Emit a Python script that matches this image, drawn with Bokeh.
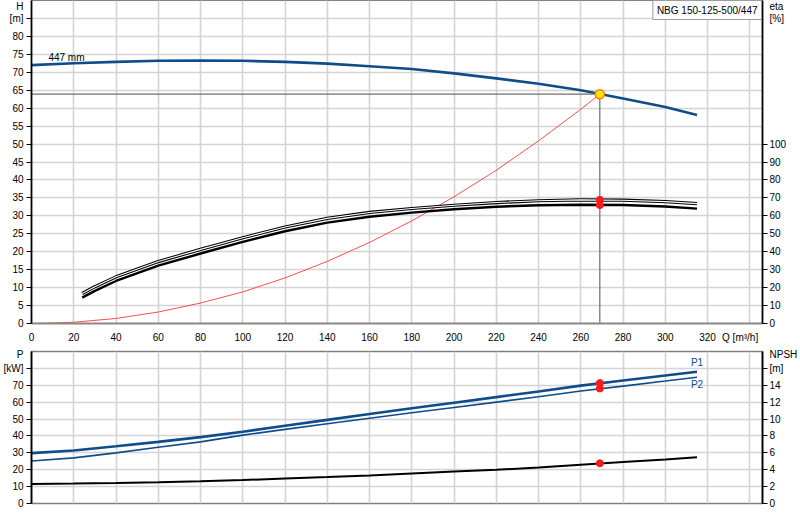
from bokeh.plotting import figure
from bokeh.models import Range1d, LinearAxis, FixedTicker, Label
from bokeh.layouts import column
from bokeh.embed import file_html
from bokeh.resources import INLINE

# ---------------- data ----------------
q_head = [0, 20, 40, 60, 80, 100, 120, 140, 160, 180, 200, 220, 240, 260, 280, 300, 315]
head = [72.0, 72.5, 72.9, 73.2, 73.3, 73.2, 72.9, 72.4, 71.7, 70.9, 69.7, 68.3, 66.8, 65.0, 62.7, 60.3, 58.1]

q_sys = [0, 20, 40, 60, 80, 100, 120, 140, 160, 180, 200, 220, 240, 260, 269]
h_sys = [0, 0.35, 1.4, 3.2, 5.7, 8.8, 12.7, 17.3, 22.6, 28.6, 35.3, 42.7, 50.9, 59.7, 63.9]

q_eta = [24, 30, 40, 60, 80, 100, 120, 140, 160, 180, 200, 220, 240, 260, 280, 300, 315]
eta_1 = [16.7, 20.5, 26.0, 34.5, 41.3, 47.8, 53.8, 58.6, 61.9, 64.1, 65.9, 67.4, 68.4, 68.9, 68.7, 67.9, 66.8]
eta_2 = [14.4, 18.2, 23.7, 32.2, 39.0, 45.5, 51.4, 56.2, 59.5, 61.8, 63.7, 65.1, 65.9, 66.2, 66.0, 65.2, 64.0]

q_pow = [0, 20, 40, 60, 80, 100, 120, 140, 160, 180, 200, 220, 240, 260, 280, 300, 315]
p1 = [29.8, 31.4, 33.9, 36.5, 39.3, 42.5, 46.0, 49.5, 53.0, 56.4, 59.7, 63.0, 66.3, 69.8, 72.8, 75.8, 78.0]
p2 = [25.2, 27.0, 30.0, 33.3, 36.5, 40.5, 43.9, 47.2, 50.5, 53.7, 56.8, 60.0, 63.2, 66.6, 69.5, 72.5, 74.8]
npsh = [2.3, 2.36, 2.43, 2.52, 2.63, 2.78, 2.95, 3.13, 3.33, 3.55, 3.78, 4.0, 4.25, 4.6, 4.92, 5.22, 5.48]

op_q = [269]
op_h = [63.9]
op_eta = [68.9, 66.0]
op_p = [71.3, 68.1]
op_npsh = [4.76]

# tick marks / grid positions
q_grid = [0, 20, 40, 60, 80, 100, 120, 140, 160, 180, 200, 220, 240, 260, 280, 300, 320, 340]
q_ticks = [0, 20, 40, 60, 80, 100, 120, 140, 160, 180, 200, 220, 240, 260, 280, 300, 320]
h_marks = [0, 5, 10, 15, 20, 25, 30, 35, 40, 45, 50, 55, 60, 65, 70, 75, 80, 85]
h_grid = h_marks + [90]
eta_marks = [0, 10, 20, 30, 40, 50, 60, 70, 80, 90, 100]
p_marks = [0, 10, 20, 30, 40, 50, 60, 70, 80]
p_grid = p_marks + [90]
npsh_marks = [0, 2, 4, 6, 8, 10, 12, 14, 16]

# axis titles placed as tick labels (position -> text)
q_title = {335.4: "Q [m³/h]"}
h_title = {85: "[m]", 88.5: "H"}
eta_title = {170: "[%]", 177: "eta"}
p_title = {80: "[kW]", 88.5: "P"}
npsh_title = {16: "[m]", 17.7: "NPSH"}

title_text = "NBG 150-125-500/447"
imp_text = "447 mm"

# ---------------- style ----------------
FONT = "Liberation Sans"
FS = "10px"
BLUE = "#0f4c8a"
GRID = "#d4d4d4"
Q_MIN, Q_MAX = 0, 346


def style_axis(ax, marks, titles, color="black", width=1.8, standoff=2):
    plain = [m for m in marks if m not in titles]
    ax.ticker = FixedTicker(ticks=plain + list(titles.keys()), minor_ticks=marks)
    ax.major_label_overrides = dict(titles)
    ax.axis_line_color = color
    ax.axis_line_width = width
    ax.major_tick_line_color = None
    ax.major_tick_out = 5
    ax.major_tick_in = 0
    ax.minor_tick_line_color = "black"
    ax.minor_tick_out = 5
    ax.minor_tick_in = 0
    ax.major_label_standoff = standoff
    ax.major_label_text_font = FONT
    ax.major_label_text_font_size = FS
    ax.major_label_text_color = "black"


def lab(plot, text, x, y, xo=0, yo=0, align="left", baseline="middle", color="black", **kw):
    plot.add_layout(Label(x=x, y=y, x_offset=xo, y_offset=yo, text=text, text_align=align,
                          text_baseline=baseline, text_font=FONT, text_font_size=FS,
                          text_color=color, **kw))


# ---------------- top figure ----------------
top = figure(width=800, height=345, x_range=Range1d(Q_MIN, Q_MAX), y_range=Range1d(0, 90),
             output_backend="svg", toolbar_location=None,
             min_border_left=30, min_border_right=38, min_border_top=0, min_border_bottom=21)
top.extra_y_ranges = {"eta": Range1d(0, 180)}
top.outline_line_color = "#808080"

top.xgrid.ticker = FixedTicker(ticks=q_grid)
top.ygrid.ticker = FixedTicker(ticks=h_grid)
for g in (top.xgrid, top.ygrid):
    g.grid_line_color = GRID
    g.grid_line_width = 1.6

xa = top.xaxis[0]
style_axis(xa, q_ticks, q_title, color="#888888", width=2, standoff=8)
xa.minor_tick_line_color = None
xa.major_tick_out = 0
xa.minor_tick_out = 0

ya = top.yaxis[0]
style_axis(ya, h_marks, h_title, standoff=3)

eta_axis = LinearAxis(y_range_name="eta")
style_axis(eta_axis, eta_marks, eta_title)
top.add_layout(eta_axis, "right")

# system curve
top.line(q_sys, h_sys, line_color="#ff3030", line_width=1, line_alpha=0.85)
# pump curve
top.line(q_head, head, line_color=BLUE, line_width=2.6)
# operating point guides
top.segment(x0=[Q_MIN], y0=op_h, x1=op_q, y1=op_h, line_color="#6e6e6e", line_width=1.2)
top.segment(x0=op_q, y0=[0], x1=op_q, y1=op_h, line_color="#6e6e6e", line_width=1.2)
# efficiency curves
top.line(q_eta, eta_1, y_range_name="eta", line_color="black", line_width=3.2)
top.line(q_eta, eta_1, y_range_name="eta", line_color="white", line_width=1.1)
top.line(q_eta, eta_2, y_range_name="eta", line_color="black", line_width=2.4)
top.scatter([op_q[0]] * len(op_eta), op_eta, y_range_name="eta", size=7,
            fill_color="#ff1a1a", line_color="#ff1a1a")
top.scatter(op_q, op_h, size=9, fill_color="#ffe800", line_color="#ff7a00", line_width=1.5)

lab(top, imp_text, 8, 74.2)
lab(top, title_text, Q_MAX, 90, xo=-1, yo=0, align="right", baseline="top",
    border_line_color="#9a9a9a", border_line_width=1, background_fill_color="white", padding=4)

# ---------------- bottom figure ----------------
bot = figure(width=800, height=170, x_range=top.x_range, y_range=Range1d(0, 90),
             output_backend="svg", toolbar_location=None, x_axis_location=None,
             min_border_left=30, min_border_right=38, min_border_top=6, min_border_bottom=12)
bot.extra_y_ranges = {"npsh": Range1d(0, 18)}
bot.outline_line_color = "#808080"
bot.outline_line_width = 1.5
bot.xgrid.ticker = FixedTicker(ticks=q_grid)
bot.ygrid.ticker = FixedTicker(ticks=p_grid)
for g in (bot.xgrid, bot.ygrid):
    g.grid_line_color = GRID
    g.grid_line_width = 1.6

pa = bot.yaxis[0]
style_axis(pa, p_marks, p_title, standoff=3)

na = LinearAxis(y_range_name="npsh")
style_axis(na, npsh_marks, npsh_title)
bot.add_layout(na, "right")

bot.line(q_pow, p1, line_color=BLUE, line_width=2.6)
bot.line(q_pow, p2, line_color=BLUE, line_width=1.6)
bot.line(q_pow, npsh, y_range_name="npsh", line_color="black", line_width=2)
bot.scatter([op_q[0]] * len(op_p), op_p, size=7, fill_color="#ff1a1a", line_color="#ff1a1a")
bot.scatter(op_q, op_npsh, y_range_name="npsh", size=7, fill_color="#ff1a1a", line_color="#ff1a1a")

lab(bot, "P1", q_pow[-1], p1[-1], yo=9, align="center", color=BLUE)
lab(bot, "P2", q_pow[-1], p2[-1], yo=-7, align="center", color=BLUE)

layout = column(top, bot, spacing=0)

open("out.html", "w").write(file_html(layout, INLINE))
